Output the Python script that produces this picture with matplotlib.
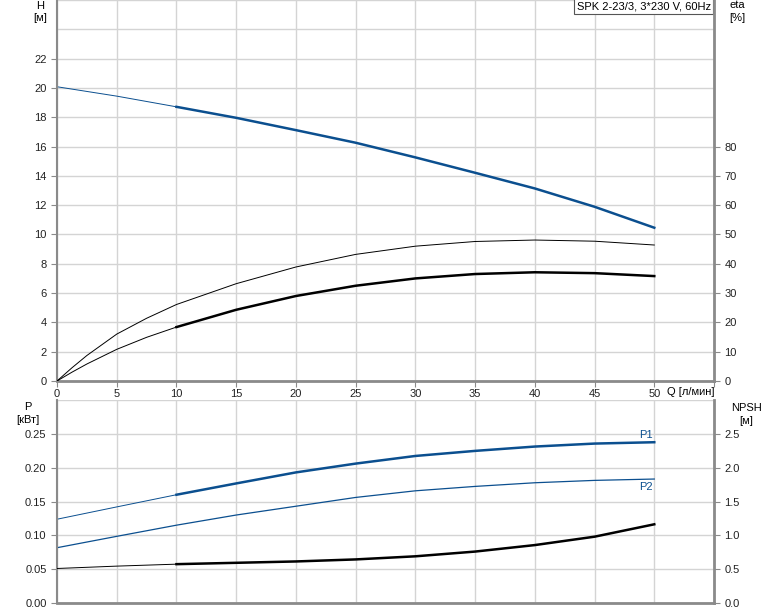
import numpy as np
import matplotlib

matplotlib.use("Agg")
import matplotlib.pyplot as plt

plt.rcParams["font.family"] = ["Liberation Sans", "DejaVu Sans"]

# flow, l/min
q = [0, 5, 10, 15, 20, 25, 30, 35, 40, 45, 50]
# head, m
head = [20.08, 19.44, 18.71, 17.96, 17.12, 16.26, 15.26, 14.21, 13.14, 11.89, 10.46]
# power, kW
p1 = [0.1238, 0.142, 0.160, 0.1767, 0.193, 0.206, 0.2173, 0.2248, 0.2312, 0.2356, 0.2376]
p2 = [0.0817, 0.0985, 0.115, 0.130, 0.143, 0.156, 0.1658, 0.1723, 0.1777, 0.1812, 0.1832]
# NPSH, m
npsh = [0.51, 0.545, 0.574, 0.594, 0.614, 0.644, 0.69, 0.76, 0.856, 0.98, 1.163]

# efficiency curves have more points near the origin where they bend
q_eta = [0, 1.25, 2.5, 5, 7.5, 10, 15, 20, 25, 30, 35, 40, 45, 50]
eta_hyd = [0, 4.5, 8.7, 16.0, 21.4, 26.1, 33.2, 38.9, 43.2, 46.0, 47.6, 48.1, 47.7, 46.4]
eta_tot = [0, 3.0, 5.8, 10.8, 14.9, 18.4, 24.3, 29.0, 32.5, 35.0, 36.5, 37.1, 36.8, 35.8]

title = "SPK 2-23/3, 3*230 V, 60Hz"

BLUE = "#0b4f8f"
GRID = "#d4d4d4"
SPINE = "#8a8a8a"
FS = 8


def two_part(ax, x, y, color, lw_thin=0.7, lw_thick=1.8):
    # thin line below the operating range, thick within it
    x = np.asarray(x)
    y = np.asarray(y)
    ax.plot(x[x <= 10], y[x <= 10], color=color, lw=lw_thin)
    ax.plot(x[x >= 10], y[x >= 10], color=color, lw=lw_thick)


def style(ax):
    ax.set_xlim(0, 55)
    ax.set_xticks(np.arange(0, 56, 5))
    ax.grid(True, which="both", color=GRID, lw=1)
    for s in ax.spines.values():
        s.set_visible(False)
    ax.spines["left"].set_visible(True)
    ax.spines["left"].set_color(SPINE)
    ax.spines["left"].set_linewidth(1.5)
    ax.spines["bottom"].set_visible(True)
    ax.spines["bottom"].set_color(SPINE)
    ax.spines["bottom"].set_linewidth(2)
    ax.tick_params(axis="both", colors=SPINE, labelcolor="#222222", labelsize=FS, length=4)
    ax.tick_params(which="minor", length=0)


def right_axis(ax):
    for s in ax.spines.values():
        s.set_visible(False)
    ax.spines["right"].set_visible(True)
    ax.spines["right"].set_color(SPINE)
    ax.spines["right"].set_linewidth(2)
    ax.tick_params(axis="y", colors=SPINE, labelcolor="#222222", labelsize=FS, length=4)


fig = plt.figure(figsize=(7.74, 6.11), dpi=100)

# ---- top panel: head + efficiency
ax = fig.add_axes([57 / 774, 1 - 381 / 611, 657 / 774, 381 / 611])
style(ax)
ax.set_ylim(0, 26)
ax.set_yticks(np.arange(0, 23, 2))
ax.set_yticks([24, 26], minor=True)
ax.set_xticklabels([str(v) if v <= 50 else "" for v in range(0, 56, 5)])
ax.tick_params(axis="x", pad=2)
two_part(ax, q, head, BLUE)

axe = ax.twinx()
axe.set_ylim(0, 130)
axe.set_yticks(np.arange(0, 81, 10))
right_axis(axe)
axe.plot(q_eta, eta_hyd, color="black", lw=0.7)
two_part(axe, q_eta, eta_tot, "black")

ax.text(0.995, 0.997, title, transform=ax.transAxes, ha="right", va="top", fontsize=FS,
        bbox=dict(boxstyle="square,pad=0.25", fc="white", ec="#555555", lw=0.8), zorder=10)

fig.text(40 / 774, 1 - 6 / 611, "H", ha="center", va="center", fontsize=FS)
fig.text(40 / 774, 1 - 18 / 611, "[м]", ha="center", va="center", fontsize=FS)
fig.text(737 / 774, 1 - 5 / 611, "eta", ha="center", va="center", fontsize=FS)
fig.text(737 / 774, 1 - 18 / 611, "[%]", ha="center", va="center", fontsize=FS)
fig.text(667 / 774, 1 - 392 / 611, "Q [л/мин]", ha="left", va="center", fontsize=FS)

# ---- bottom panel: power + NPSH
bx = fig.add_axes([57 / 774, 1 - 603 / 611, 657 / 774, 203 / 611])
style(bx)
bx.set_ylim(0, 0.3)
bx.set_yticks(np.arange(0, 0.251, 0.05))
bx.set_yticks([0.3], minor=True)
bx.set_yticklabels(["0.00", "0.05", "0.10", "0.15", "0.20", "0.25"])
bx.tick_params(axis="x", labelbottom=False, length=0)
two_part(bx, q, p1, BLUE)
bx.plot(q, p2, color=BLUE, lw=0.9)
bx.text(50 - 0.1, p1[-1] + 0.003, "P1", color=BLUE, ha="right", va="bottom", fontsize=FS)
bx.text(50 - 0.1, p2[-1] - 0.004, "P2", color=BLUE, ha="right", va="top", fontsize=FS)

bn = bx.twinx()
bn.set_ylim(0, 3.0)
bn.set_yticks(np.arange(0, 2.51, 0.5))
bn.set_yticklabels(["0.0", "0.5", "1.0", "1.5", "2.0", "2.5"])
right_axis(bn)
two_part(bn, q, npsh, "black")

fig.text(28 / 774, 1 - 407 / 611, "P", ha="center", va="center", fontsize=FS)
fig.text(28 / 774, 1 - 420 / 611, "[кВт]", ha="center", va="center", fontsize=FS)
fig.text(746 / 774, 1 - 408 / 611, "NPSH", ha="center", va="center", fontsize=FS)
fig.text(746 / 774, 1 - 421 / 611, "[м]", ha="center", va="center", fontsize=FS)

fig.savefig("out.png", dpi=100)
